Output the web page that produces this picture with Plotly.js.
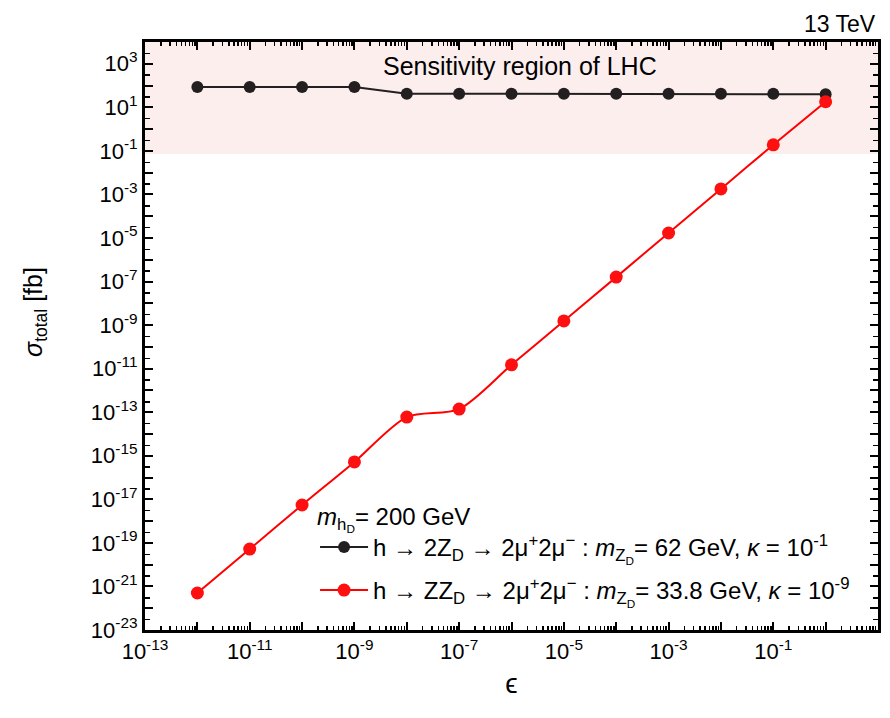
<!DOCTYPE html>
<html>
<head>
<meta charset="utf-8">
<script src="https://cdn.plot.ly/plotly-3.0.1.min.js"></script>
<style>html,body{margin:0;padding:0;background:#fff;}#plot{width:890px;height:718px;}</style>
</head>
<body>
<div id="plot"></div>
<script>
// epsilon values
const epsilon = [1e-12,1e-11,1e-10,1e-9,1e-8,1e-7,1e-6,1e-5,1e-4,1e-3,1e-2,1e-1,1e0];
// h -> 2Z_D -> 2mu+2mu- (black)
const sigmaBlack = [85,85,85,85,42,42,42,42,42,42,42,42,40];
// h -> ZZ_D -> 2mu+2mu- (red)
const sigmaRed = [5e-22,5.2e-20,5.5e-18,5.2e-16,6e-14,1.4e-13,1.5e-11,1.55e-9,1.6e-7,1.7e-5,1.8e-3,0.19,18];
// LHC sensitivity region bounds
const lhcLower = 0.072;
const lhcUpper = 1e4;

const nameBlack = "h \u2192 2Z<sub>D</sub> \u2192 2\u03bc<sup>+</sup>2\u03bc<sup>\u2212</sup> : <i>m</i><sub>Z<sub>D</sub></sub>= 62 GeV, <i>\u03ba</i> = 10<sup>-1</sup>";
const nameRed = "h \u2192 ZZ<sub>D</sub> \u2192 2\u03bc<sup>+</sup>2\u03bc<sup>\u2212</sup> : <i>m</i><sub>Z<sub>D</sub></sub>= 33.8 GeV, <i>\u03ba</i> = 10<sup>-9</sup>";

const xTickVals = [], xTickText = [];
for (let p = -13; p <= 1; p++) { xTickVals.push(Math.pow(10,p)); xTickText.push((p % 2 !== 0 && p < 1) ? "10<sup>" + p + "</sup>" : ""); }
const yTickVals = [], yTickText = [];
for (let p = -23; p <= 4; p++) { yTickVals.push(Math.pow(10,p)); yTickText.push((p % 2 !== 0) ? "10<sup>" + p + "</sup>" : ""); }
const xMinor = [], yMinor = [];
for (let p = -13; p < 1; p++) for (let m = 2; m <= 9; m++) xMinor.push(m*Math.pow(10,p));
for (let p = -23; p < 4; p++) yMinor.push(3*Math.pow(10,p));

const font = "Liberation Sans, Arial, sans-serif";

const traces = [
  {x: epsilon, y: sigmaBlack, mode: "lines+markers", name: nameBlack, legendgroup: "a",
   line: {color: "#231f20", width: 2}, marker: {color: "#231f20", size: 12}},
  {x: epsilon, y: sigmaRed, mode: "lines+markers", name: nameRed, legendgroup: "b",
   line: {color: "#ff0000", width: 2, shape: "spline", smoothing: 0.8}, marker: {color: "#ff1010", size: 13}}
];

const axisCommon = {
  type: "log", showgrid: false, zeroline: false, showline: true, linecolor: "#000", linewidth: 3,
  mirror: "allticks", ticks: "inside", ticklen: 8, tickwidth: 2, tickcolor: "#000",
  tickmode: "array", tickfont: {family: font, size: 22, color: "#000"}
};

const layout = {
  width: 890, height: 718,
  margin: {l: 145, r: 12, t: 42, b: 88},
  paper_bgcolor: "#fff", plot_bgcolor: "#fff",
  showlegend: true,
  legend: {x: 0.232, y: 0.232, xanchor: "left", yanchor: "top", bgcolor: "rgba(0,0,0,0)",
           font: {family: font, size: 24, color: "#000"}, itemwidth: 48, tracegroupgap: 9,
           title: {text: "<i>m</i><sub>h<sub>D</sub></sub>= 200 GeV", font: {family: font, size: 24, color: "#000"}}},
  xaxis: Object.assign({}, axisCommon, {range: [-13, 1], tickvals: xTickVals, ticktext: xTickText,
    minor: {tickmode: "array", tickvals: xMinor, ticklen: 4, tickwidth: 1.5, tickcolor: "#000", ticks: "inside"},
    title: {text: "\u03f5", font: {family: font, size: 28, color: "#000"}, standoff: 10}}),
  yaxis: Object.assign({}, axisCommon, {range: [-23, 4], tickvals: yTickVals, ticktext: yTickText,
    minor: {tickmode: "array", tickvals: yMinor, ticklen: 5, tickwidth: 1.5, tickcolor: "#000", ticks: "inside"}}),
  shapes: [
    {type: "rect", xref: "paper", yref: "y", x0: 0, x1: 1, y0: lhcLower, y1: lhcUpper,
     fillcolor: "#fdeeee", line: {width: 0}, layer: "below"}
  ],
  annotations: [
    {text: "<i>\u03c3</i><sub>total</sub> [fb]", xref: "paper", yref: "paper", x: -0.150, y: 0.541,
     xanchor: "center", yanchor: "middle", textangle: -90, showarrow: false,
     font: {family: font, size: 25, color: "#000"}},
    {text: "Sensitivity region of LHC", xref: "paper", yref: "paper", x: 0.512, y: 0.959, yanchor: "middle", showarrow: false,
     font: {family: font, size: 25, color: "#000"}},
    {text: "13 TeV", xref: "paper", yref: "paper", x: 1.0, y: 1.0, yanchor: "bottom", xanchor: "right", yshift: 3, showarrow: false,
     font: {family: font, size: 23, color: "#000"}}
  ]
};

Plotly.newPlot("plot", traces, layout, {displayModeBar: false, staticPlot: true});
</script>
</body>
</html>
